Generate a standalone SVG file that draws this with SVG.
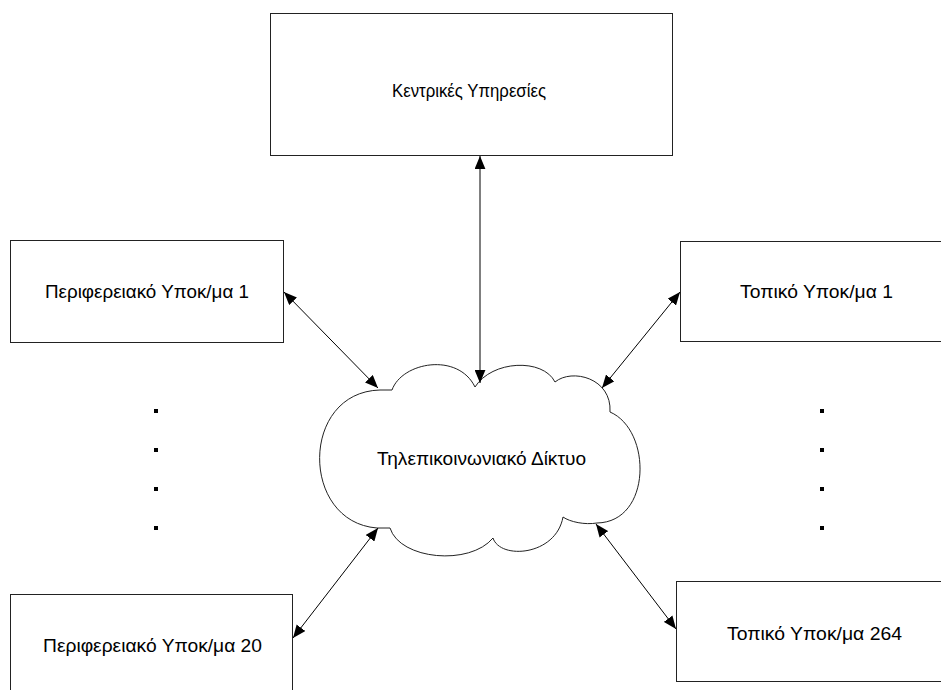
<svg xmlns="http://www.w3.org/2000/svg" width="941" height="690" viewBox="0 0 941 690">
<style>
.box{fill:#fff;stroke:#222;stroke-width:1}
.lbl{font-family:"Liberation Sans",Arial,sans-serif;font-size:18px;fill:#000;text-anchor:middle}
.con{stroke:#000;stroke-width:1;fill:none;marker-start:url(#ah);marker-end:url(#ah)}
.dot{fill:#000}
</style>
<defs>
<marker id="ah" viewBox="0 0 12 10" refX="12" refY="5" markerWidth="13" markerHeight="11" markerUnits="userSpaceOnUse" orient="auto-start-reverse">
<path d="M0,0 L12,5 L0,10 Z" fill="#000"/>
</marker>
</defs>
<rect width="941" height="690" fill="#fff"/>
<g id="central">
<rect class="box" x="270.5" y="13.5" width="402" height="142"/>
<text class="lbl" x="469" y="97" textLength="154" lengthAdjust="spacingAndGlyphs">Κεντρικές Υπηρεσίες</text>
</g>
<g id="periph1">
<rect class="box" x="10.5" y="240.5" width="273" height="102"/>
<text class="lbl" x="147" y="298" textLength="204" lengthAdjust="spacingAndGlyphs">Περιφερειακό Υποκ/μα 1</text>
</g>
<g id="periph20">
<rect class="box" x="10.5" y="594.5" width="282" height="110"/>
<text class="lbl" x="152.5" y="652" textLength="219" lengthAdjust="spacingAndGlyphs">Περιφερειακό Υποκ/μα 20</text>
</g>
<g id="local1">
<rect class="box" x="680.5" y="241.5" width="280" height="100"/>
<text class="lbl" x="816.5" y="298" textLength="153" lengthAdjust="spacingAndGlyphs">Τοπικό Υποκ/μα 1</text>
</g>
<g id="local264">
<rect class="box" x="676.5" y="581.5" width="280" height="100"/>
<text class="lbl" x="814.5" y="640" textLength="175" lengthAdjust="spacingAndGlyphs">Τοπικό Υποκ/μα 264</text>
</g>
<g id="network">
<path class="box" d="M392,390 C402,362 458,352 475,387 C492,360 543,358 555,382 C572,368 612,378 610,412 C652,430 652,522 597,523 C585,525 570,522 563,517 C556,556 500,560 493,538 C470,566 400,560 390,528 L377,528 C300,522 300,392 380,390 Z"/>
<text class="lbl" x="481.5" y="465" textLength="209" lengthAdjust="spacingAndGlyphs">Τηλεπικοινωνιακό Δίκτυο</text>
</g>
<g id="dots">
<rect class="dot" x="154" y="409" width="4" height="4"/>
<rect class="dot" x="154" y="448" width="4" height="4"/>
<rect class="dot" x="154" y="487" width="4" height="4"/>
<rect class="dot" x="154" y="526" width="4" height="4"/>
<rect class="dot" x="820" y="409" width="4" height="4"/>
<rect class="dot" x="820" y="448" width="4" height="4"/>
<rect class="dot" x="820" y="487" width="4" height="4"/>
<rect class="dot" x="820" y="526" width="4" height="4"/>
</g>
<g id="connectors">
<line class="con" x1="480" y1="156" x2="480" y2="383"/>
<line class="con" x1="284" y1="292" x2="378" y2="388"/>
<line class="con" x1="680" y1="292" x2="602" y2="388"/>
<line class="con" x1="378" y1="528" x2="293" y2="638"/>
<line class="con" x1="596" y1="524" x2="676" y2="629"/>
</g>
</svg>
